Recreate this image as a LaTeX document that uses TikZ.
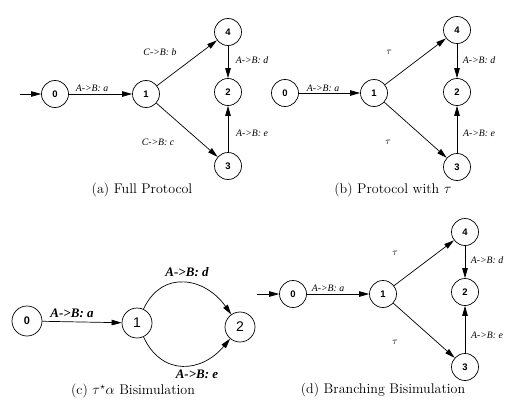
\documentclass[tikz,border=0pt]{standalone}
\usepackage{fontspec}
\newfontfamily\lblfont{Liberation Serif}
\newfontfamily\numfont{Liberation Sans}
\usetikzlibrary{arrows.meta}
\begin{document}
\begin{tikzpicture}[x=1pt,y=-1pt,
 st/.style={circle,draw,line width=0.7pt,minimum size=27pt,inner sep=0pt,font=\numfont\bfseries\fontsize{9.5}{9.5}\selectfont},
 bst/.style={st,minimum size=30pt,font=\numfont\fontsize{14}{14}\selectfont},
 tr/.style={-{Triangle[length=10pt,width=5.5pt]},line width=0.7pt},
 lbl/.style={font=\lblfont\itshape\fontsize{9.8}{9.8}\selectfont,inner sep=0pt},
 blbl/.style={font=\lblfont\itshape\bfseries\fontsize{13}{13}\selectfont,inner sep=0pt},
 captxt/.style={font=\fontsize{14}{14}\selectfont,inner sep=0pt}]
\useasboundingbox (0,0) rectangle (516,404);
% (a)
\coordinate (as) at (20,94);
\node[st] (a0) at (55,94) {0};
\node[st] (a1) at (146,94) {1};
\node[st] (a4) at (228,32) {4};
\node[st] (a2) at (228,92) {2};
\node[st] (a3) at (228,166) {3};
\draw[tr] (as) -- (a0);
\draw[tr] (a0) -- (a1);
\draw[tr] (a1) -- (a4);
\draw[tr] (a1) -- (a3);
\draw[tr] (a4) -- (a2);
\draw[tr] (a3) -- (a2);
\node[lbl] (la01) at (92,88) {A->B: a};
\node[lbl] (la14) at (160,52) {C->B: b};
\node[lbl] (la13) at (158,142) {C->B: c};
\node[lbl] (la42) at (252,60) {A->B: d};
\node[lbl] (la32) at (252,133) {A->B: e};
\node[captxt] (capa) at (142,190) {(a) Full Protocol};
% (b)
\node[st] (b0) at (285,93) {0};
\node[st] (b1) at (374,93) {1};
\node[st] (b4) at (457,30) {4};
\node[st] (b2) at (457,92) {2};
\node[st] (b3) at (457,167) {3};
\draw[tr] (b0) -- (b1);
\draw[tr] (b1) -- (b4);
\draw[tr] (b1) -- (b3);
\draw[tr] (b4) -- (b2);
\draw[tr] (b3) -- (b2);
\node[lbl] (lb01) at (323,88) {A->B: a};
\node[lbl] (lb14) at (389,52) {$\tau$};
\node[lbl] (lb13) at (388,142) {$\tau$};
\node[lbl] (lb42) at (479,60) {A->B: d};
\node[lbl] (lb32) at (479,133) {A->B: e};
\node[captxt] (capb) at (393,190) {(b) Protocol with $\tau$};
% (c)
\node[st,font=\numfont\bfseries\fontsize{11}{11}\selectfont,minimum size=30pt] (c0) at (27,321) {0};
\node[bst] (c1) at (137,323) {1};
\node[bst] (c2) at (240,327) {2};
\draw[tr] (c0) -- (c1);
\draw[tr] (c1) to[out=65,in=125,looseness=1.3] (c2);
\draw[tr] (c1) to[out=-65,in=-130,looseness=1.3] (c2);
\node[blbl] (lc01) at (72,313) {A->B: a};
\node[blbl] (lc12d) at (187,272) {A->B: d};
\node[blbl] (lc12e) at (197,374) {A->B: e};
\node[captxt] (capc) at (133,391) {(c) $\tau^\star\alpha$ Bisimulation};
% (d)
\coordinate (ds) at (257,294);
\node[st] (d0) at (293,294) {0};
\node[st] (d1) at (383,294) {1};
\node[st] (d4) at (465,232) {4};
\node[st] (d2) at (465,292) {2};
\node[st] (d3) at (465,367) {3};
\draw[tr] (ds) -- (d0);
\draw[tr] (d0) -- (d1);
\draw[tr] (d1) -- (d4);
\draw[tr] (d1) -- (d3);
\draw[tr] (d4) -- (d2);
\draw[tr] (d3) -- (d2);
\node[lbl] (ld01) at (328,288) {A->B: a};
\node[lbl] (ld14) at (395,253) {$\tau$};
\node[lbl] (ld13) at (395,342) {$\tau$};
\node[lbl] (ld42) at (487,260) {A->B: d};
\node[lbl] (ld32) at (487,335) {A->B: e};
\node[captxt] (capd) at (383,390) {(d) Branching Bisimulation};
\end{tikzpicture}
\end{document}
